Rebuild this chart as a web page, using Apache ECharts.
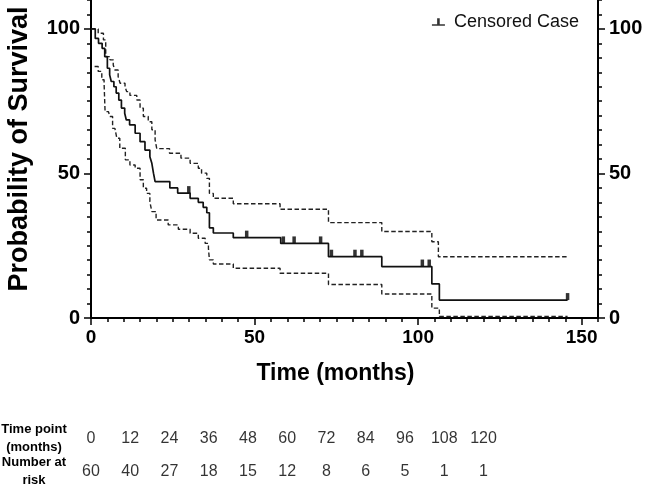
<!DOCTYPE html>
<html>
<head>
<meta charset="utf-8">
<script src="https://cdn.jsdelivr.net/npm/echarts@6/dist/echarts.min.js"></script>
<style>
  html, body { margin: 0; padding: 0; background: #fff; }
  #chart { width: 646px; height: 485px; }
</style>
</head>
<body>
<div id="chart"></div>
<script>
// Kaplan-Meier estimate (months, % surviving)
var kmTime = [0, 1.3, 2.3, 3.4, 4.2, 5.0, 5.7, 6.2, 7.0, 7.7, 8.5, 9.3, 10.3, 10.8, 11.8, 13.5, 15.0, 16.5, 18.0, 18.6,
  19.1, 19.6, 24.1, 26.5, 30.3, 32.8, 34.3, 35.4, 36.2, 37.4, 43.5, 58.0, 72.6, 88.9, 104.2, 106.5, 145.7];
var kmSurv = [100, 96.7, 95.0, 93.3, 90.4, 86.4, 84.1, 81.8, 80.0, 77.8, 75.4, 72.6, 70.8, 68.5, 66.8, 63.9, 61.0, 58.1, 55.8, 53.5,
  50.1, 47.2, 45.0, 43.2, 41.4, 40.0, 38.3, 36.4, 31.2, 29.4, 27.8, 25.8, 21.2, 17.8, 11.8, 6.2, 6.2];

// upper 95% CI
var upTime = [0, 2.2, 3.8, 4.5, 5.8, 6.8, 7.3, 8.3, 8.9, 10.4, 10.9, 11.9, 14.0, 15.0, 16.0, 17.5, 18.6, 19.6, 20.1, 24.0,
  27.5, 30.3, 32.8, 33.8, 35.4, 36.2, 37.4, 43.5, 57.8, 72.6, 88.9, 104.2, 106.2, 145.7];
var upSurv = [100, 98.5, 96.2, 90.4, 89.3, 87.5, 85.8, 83.5, 81.2, 80.0, 78.3, 77.0, 75.4, 72.6, 69.7, 67.9, 65.1, 61.6, 58.6, 57.0,
  55.3, 53.5, 51.8, 50.1, 48.3, 43.1, 41.4, 39.5, 37.6, 33.0, 29.9, 26.4, 21.2, 21.2];

// lower 95% CI
var loTime = [1.1, 2.2, 3.3, 4.0, 4.3, 5.3, 5.8, 6.6, 7.3, 7.9, 8.8, 10.5, 11.9, 13.5, 15.0, 16.0, 17.0, 18.0, 18.6, 19.9,
  23.6, 26.7, 30.3, 32.8, 34.9, 35.9, 36.2, 37.4, 43.5, 57.8, 72.6, 88.9, 104.2, 106.5, 145.7];
var loSurv = [87.0, 85.3, 82.4, 81.2, 71.4, 70.8, 69.7, 65.6, 65.1, 62.2, 58.7, 54.7, 52.9, 51.8, 47.8, 44.9, 43.1, 40.2, 36.8, 33.9,
  32.2, 30.7, 29.3, 27.6, 25.8, 24.1, 20.1, 18.7, 17.2, 15.5, 11.6, 8.3, 3.4, 0.5, 0.5];

// censored cases (months)
var censorTime = [29.9, 47.6, 58.8, 62.1, 70.2, 73.5, 80.7, 82.8, 101.3, 103.4, 145.7];

// number at risk table
var riskTimes = [0, 12, 24, 36, 48, 60, 72, 84, 96, 108, 120];
var atRisk = [60, 40, 27, 18, 15, 12, 8, 6, 5, 1, 1];
var rowLabels = ['Time point\n(months)', 'Number at\nrisk'];

var FONT = '"Liberation Sans", Arial, sans-serif';

function zip(a, b) {
  return a.map(function (v, i) { return [v, b[i]]; });
}
function survAt(t) {
  var s = kmSurv[0];
  for (var i = 0; i < kmTime.length; i++) {
    if (kmTime[i] <= t) s = kmSurv[i];
  }
  return s;
}

var chart = echarts.init(document.getElementById('chart'), null, { renderer: 'canvas' });

var majorX = [0, 50, 100, 150];
var majorY = [0, 50, 100];
var boldLabel = { color: '#000', fontFamily: FONT, fontWeight: 'bold', fontSize: 20 };
var dashed = { color: '#222', width: 1.4, type: [4.5, 2.5] };

chart.setOption({
  animation: false,
  legend: {
    data: [{ name: 'Censored Case', icon: 'path://M0,10 H13 V11.5 H0 Z M5.2,4 H7.8 V10 H5.2 Z' }],
    top: 8,
    right: 62,
    itemWidth: 13,
    itemHeight: 10,
    textStyle: { fontFamily: FONT, fontSize: 18, color: '#111', padding: [0, 0, 0, 4] }
  },
  grid: [
    { left: 91, right: 48, top: 0, bottom: 167, outerBoundsMode: 'none' },
    { left: 91, right: 48, top: 422, height: 66, outerBoundsMode: 'none' },
    { left: 91, right: 48, top: 0, bottom: 167, outerBoundsMode: 'none' }
  ],
  xAxis: [
    {
      gridIndex: 0, type: 'value', min: 0, max: 155, interval: 5,
      name: 'Time (months)', nameLocation: 'middle', nameGap: 44,
      nameTextStyle: { color: '#000', fontFamily: FONT, fontWeight: 'bold', fontSize: 23, padding: [0, 18, 0, 0] },
      axisLine: { lineStyle: { color: '#000', width: 2 } },
      axisTick: { length: 4, lineStyle: { color: '#000', width: 1.5 } },
      axisLabel: Object.assign({ customValues: majorX, margin: 10 }, boldLabel, { fontSize: 19 }),
      splitLine: { show: false }
    },
    {
      gridIndex: 1, type: 'value', min: 0, max: 155, show: false
    },
    {
      gridIndex: 2, type: 'value', min: 0, max: 155,
      axisLine: { show: false },
      axisTick: { customValues: majorX, length: 7, lineStyle: { color: '#000', width: 1.5 } },
      axisLabel: { show: false },
      splitLine: { show: false }
    }
  ],
  yAxis: [
    {
      gridIndex: 0, type: 'value', min: 0, max: 110, interval: 5, position: 'left',
      name: 'Probability of Survival', nameLocation: 'middle', nameGap: 58, nameRotate: 90,
      nameTextStyle: { color: '#000', fontFamily: FONT, fontWeight: 'bold', fontSize: 27, padding: [0, 0, 0, 20] },
      axisLine: { lineStyle: { color: '#000', width: 2 } },
      axisTick: { length: 4, lineStyle: { color: '#000', width: 1.5 } },
      axisLabel: Object.assign({ customValues: majorY, margin: 11 }, boldLabel),
      splitLine: { show: false }
    },
    {
      gridIndex: 0, type: 'value', min: 0, max: 110, interval: 5, position: 'right',
      axisLine: { lineStyle: { color: '#000', width: 2 } },
      axisTick: { length: 4, lineStyle: { color: '#000', width: 1.5 } },
      axisLabel: Object.assign({ customValues: majorY, margin: 11 }, boldLabel),
      splitLine: { show: false }
    },
    {
      gridIndex: 1, type: 'category', data: rowLabels, inverse: true,
      axisLine: { show: false },
      axisTick: { show: false },
      axisLabel: {
        interval: 0, align: 'center', margin: 57, color: '#000', fontFamily: FONT, fontWeight: 'bold',
        fontSize: 13, lineHeight: 18
      }
    },
    {
      gridIndex: 2, type: 'value', min: 0, max: 110, position: 'left',
      axisLine: { show: false },
      axisTick: { customValues: majorY, length: 7, lineStyle: { color: '#000', width: 1.5 } },
      axisLabel: { show: false },
      splitLine: { show: false }
    },
    {
      gridIndex: 2, type: 'value', min: 0, max: 110, position: 'right',
      axisLine: { show: false },
      axisTick: { customValues: majorY, length: 7, lineStyle: { color: '#000', width: 1.5 } },
      axisLabel: { show: false },
      splitLine: { show: false }
    }
  ],
  series: [
    {
      name: 'Upper CI', type: 'line', step: 'end', xAxisIndex: 0, yAxisIndex: 0,
      showSymbol: false, silent: true,
      lineStyle: dashed,
      data: zip(upTime, upSurv)
    },
    {
      name: 'Lower CI', type: 'line', step: 'end', xAxisIndex: 0, yAxisIndex: 0,
      showSymbol: false, silent: true,
      lineStyle: dashed,
      data: zip(loTime, loSurv)
    },
    {
      name: 'Survival', type: 'line', step: 'end', xAxisIndex: 0, yAxisIndex: 0,
      showSymbol: false, silent: true,
      lineStyle: { color: '#111', width: 1.7 },
      data: zip(kmTime, kmSurv)
    },
    {
      name: 'Censored Case', type: 'scatter', xAxisIndex: 0, yAxisIndex: 0,
      symbol: 'rect', symbolSize: [3.5, 7], symbolOffset: [0, -3.5],
      itemStyle: { color: '#000' },
      data: censorTime.map(function (t) { return [t, survAt(t)]; })
    },
    {
      name: 'Time point', type: 'scatter', xAxisIndex: 1, yAxisIndex: 2,
      symbolSize: 0, silent: true,
      label: {
        show: true, position: 'inside', color: '#000', fontFamily: FONT, fontSize: 16,
        formatter: function (p) { return String(p.value[0]); }
      },
      data: riskTimes.map(function (t) { return [t, 0]; })
    },
    {
      name: 'Number at risk', type: 'scatter', xAxisIndex: 1, yAxisIndex: 2,
      symbolSize: 0, silent: true,
      label: {
        show: true, position: 'inside', color: '#000', fontFamily: FONT, fontSize: 16,
        formatter: function (p) { return String(atRisk[p.dataIndex]); }
      },
      data: riskTimes.map(function (t) { return [t, 1]; })
    }
  ]
});
</script>
</body>
</html>
